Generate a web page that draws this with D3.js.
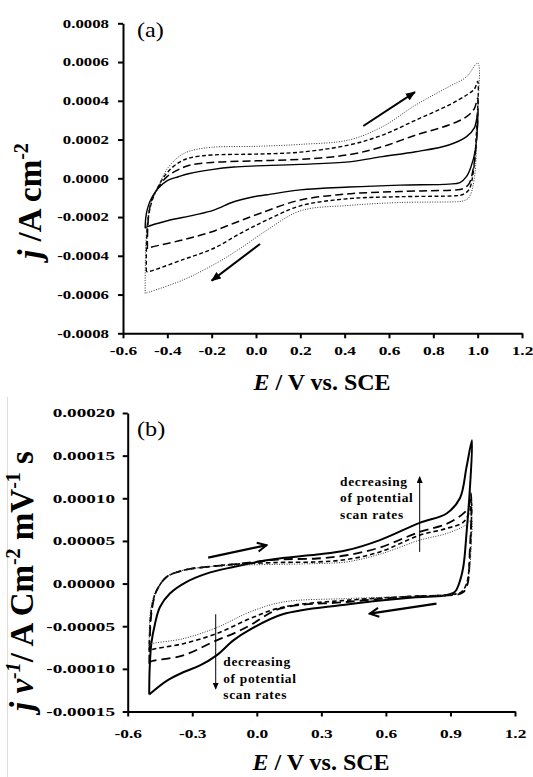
<!DOCTYPE html>
<html>
<head>
<meta charset="utf-8">
<script src="https://cdn.jsdelivr.net/npm/d3@7"></script>
<style>
body { margin: 0; background: #fff; }
svg { display: block; font-family: "Liberation Serif", "Times New Roman", serif; }
</style>
</head>
<body>
<div id="chart"></div>
<script>
// ---- panel (a): current density j (A cm-2) vs E (V), four scan rates ----
// each loop: anodic branch (upper, -0.5 -> 1.0 V) then cathodic branch (lower, back to -0.5 V)
var aSolidUp = [[-0.5,-0.000258],[-0.497,-0.0002],[-0.488,-0.00015],[-0.47,-0.0001],[-0.44,-0.00005],[-0.4,-0.000012],[-0.35,0.000008],[-0.3,0.000025],[-0.2,0.000045],[-0.1,0.000058],[0.0,0.000064],[0.2,0.000072],[0.42,0.000085],[0.57,0.000112],[0.72,0.000137],[0.87,0.000172],[0.95,0.000215],[0.985,0.00026],[1.0,0.000335]];
var aSolidDown = [[0.99,0.00015],[0.97,0.00006],[0.95,0.00001],[0.92,-0.000022],[0.87,-0.00003],[0.65,-0.000035],[0.42,-0.000045],[0.2,-0.00006],[0.05,-0.000085],[-0.01,-0.000095],[-0.1,-0.000121],[-0.19,-0.000164],[-0.28,-0.00019],[-0.4,-0.000219],[-0.49,-0.00025],[-0.5,-0.000258]];
var aLongUp = [[-0.49,-0.000365],[-0.489,-0.00027],[-0.483,-0.00018],[-0.47,-0.00011],[-0.44,-0.000045],[-0.4,0.00001],[-0.35,0.000045],[-0.3,0.000067],[-0.2,0.000082],[0.0,0.00009],[0.2,0.000098],[0.42,0.000122],[0.57,0.000163],[0.72,0.000223],[0.87,0.000275],[0.95,0.000318],[0.985,0.00036],[1.0,0.000415]];
var aLongDown = [[0.995,0.0002],[0.98,0.00005],[0.96,-0.00003],[0.93,-0.000055],[0.9,-0.00006],[0.65,-0.000068],[0.42,-0.00008],[0.2,-0.000112],[0.02,-0.00018],[-0.1,-0.000232],[-0.21,-0.00028],[-0.33,-0.000318],[-0.486,-0.000361],[-0.49,-0.000365]];
var aShortUp = [[-0.495,-0.00048],[-0.494,-0.00035],[-0.488,-0.00022],[-0.47,-0.00012],[-0.44,-0.00004],[-0.4,0.00003],[-0.35,0.00008],[-0.3,0.000105],[-0.2,0.00012],[0.0,0.000125],[0.2,0.000135],[0.42,0.000172],[0.57,0.000223],[0.72,0.0003],[0.87,0.000378],[0.95,0.00043],[0.985,0.00046],[1.0,0.0005]];
var aShortDown = [[0.995,0.00025],[0.98,0.00003],[0.96,-0.00006],[0.93,-0.000085],[0.9,-0.00009],[0.65,-0.000095],[0.42,-0.000105],[0.2,-0.000142],[0.05,-0.000215],[-0.07,-0.000284],[-0.19,-0.000361],[-0.33,-0.00042],[-0.49,-0.000482],[-0.495,-0.00048]];
var aDotUp = [[-0.5,-0.000594],[-0.499,-0.00042],[-0.492,-0.00025],[-0.475,-0.00013],[-0.44,-0.00004],[-0.4,0.00005],[-0.35,0.00011],[-0.3,0.00014],[-0.2,0.00016],[0.0,0.000165],[0.2,0.000175],[0.42,0.000198],[0.57,0.000266],[0.72,0.000378],[0.87,0.000473],[0.95,0.000524],[1.0,0.000595]];
var aDotDown = [[0.997,0.0003],[0.985,0.0],[0.96,-0.0001],[0.93,-0.000118],[0.9,-0.000121],[0.65,-0.000125],[0.42,-0.00014],[0.2,-0.000168],[0.05,-0.000267],[-0.07,-0.000361],[-0.18,-0.000439],[-0.33,-0.000525],[-0.5,-0.000594]];

// ---- panel (b): j/v vs E ----
var bSolidUp = [[-0.5,-0.00013],[-0.498,-0.0001],[-0.49,-0.00007],[-0.473,-0.000047],[-0.45,-0.0000275],[-0.404,-0.0000117],[-0.326,0.000002],[-0.234,0.0000117],[-0.109,0.0000195],[0.046,0.0000274],[0.12,0.00003],[0.28,0.000034],[0.417,0.000039],[0.572,0.000051],[0.757,0.0000712],[0.882,0.0000822],[0.944,0.0001],[0.975,0.000137],[1.0,0.000168]];
var bSolidDown = [[0.99,0.00011],[0.975,0.00006],[0.96,0.00002],[0.94,0.0],[0.92,-0.00001],[0.87,-0.000014],[0.726,-0.0000164],[0.4,-0.000025],[0.12,-0.000036],[-0.032,-0.000054],[-0.109,-0.0000666],[-0.187,-0.0000842],[-0.264,-0.000096],[-0.342,-0.000104],[-0.419,-0.000114],[-0.5,-0.00013]];
var bLongUp = [[-0.5,-0.000094],[-0.498,-0.00007],[-0.492,-0.00004],[-0.48,-0.00002],[-0.465,-0.0000079],[-0.419,0.0000078],[-0.342,0.0000156],[-0.234,0.0000195],[-0.1,0.0000227],[0.1,0.0000282],[0.28,0.0000294],[0.417,0.0000332],[0.572,0.0000423],[0.757,0.0000606],[0.882,0.00007],[0.959,0.000082],[0.985,0.00009],[0.995,0.000106]];
var bLongDown = [[0.997,0.00008],[0.99,0.00004],[0.98,0.0],[0.96,-0.00001],[0.93,-0.000013],[0.87,-0.000014],[0.726,-0.000015],[0.417,-0.0000216],[0.108,-0.0000294],[-0.032,-0.000049],[-0.109,-0.0000587],[-0.187,-0.0000666],[-0.342,-0.0000842],[-0.496,-0.000092],[-0.5,-0.000094]];
var bShortUp = [[-0.5,-0.00008],[-0.498,-0.00006],[-0.492,-0.000035],[-0.48,-0.000018],[-0.465,-0.0000079],[-0.419,0.0000078],[-0.342,0.0000156],[-0.234,0.0000195],[-0.1,0.0000227],[0.1,0.0000247],[0.28,0.0000254],[0.417,0.0000282],[0.572,0.0000371],[0.757,0.0000567],[0.882,0.0000646],[0.96,0.000072],[0.99,0.000085],[0.998,0.000095]];
var bShortDown = [[0.997,0.00007],[0.99,0.00003],[0.975,0.0],[0.95,-0.00001],[0.9,-0.000013],[0.726,-0.000015],[0.417,-0.0000196],[0.123,-0.0000275],[-0.032,-0.0000411],[-0.187,-0.0000587],[-0.342,-0.0000705],[-0.496,-0.0000783],[-0.5,-0.00008]];
var bDotUp = [[-0.5,-0.000073],[-0.499,-0.00005],[-0.493,-0.00003],[-0.48,-0.000016],[-0.465,-0.0000079],[-0.419,0.0000078],[-0.342,0.0000156],[-0.234,0.0000195],[-0.1,0.0000215],[0.1,0.0000225],[0.28,0.0000235],[0.417,0.0000254],[0.572,0.0000344],[0.757,0.0000509],[0.882,0.0000587],[0.97,0.0000685],[0.998,0.000075]];
var bDotDown = [[0.997,0.00005],[0.99,0.00002],[0.975,0.0],[0.95,-0.00001],[0.9,-0.000013],[0.726,-0.000015],[0.417,-0.0000176],[0.123,-0.0000216],[-0.032,-0.0000333],[-0.187,-0.0000517],[-0.342,-0.0000646],[-0.496,-0.0000713],[-0.5,-0.000073]];

// ticks
var aXTicks = [-0.6,-0.4,-0.2,0.0,0.2,0.4,0.6,0.8,1.0,1.2];
var aYTicks = [-0.0008,-0.0006,-0.0004,-0.0002,0,0.0002,0.0004,0.0006,0.0008];
var bXTicks = [-0.6,-0.3,0.0,0.3,0.6,0.9,1.2];
var bYTicks = [-0.00015,-0.0001,-0.00005,0,0.00005,0.0001,0.00015,0.0002];

// annotations (data coordinates)
var aArrows = [{from:[0.484,0.00027], to:[0.717,0.000445]}, {from:[0.018,-0.000339], to:[-0.2,-0.000528]}];
var bArrows = [{from:[-0.226,0.0000305], to:[0.045,0.000045]}, {from:[0.835,-0.0000235], to:[0.525,-0.0000352]}];
var bThinArrows = [{from:[0.757,0.0000371], to:[0.757,0.000125]}, {from:[-0.191,-0.000036], to:[-0.191,-0.0001233]}];
var bNotes = [{at:[0.387,0.0001143], lines:["decreasing","of potential","scan rates"]},
              {at:[-0.156,-0.0000971], lines:["decreasing","of potential","scan rates"]}];

var W = 533, H = 777;
var svg = d3.select("#chart").append("svg").attr("width", W).attr("height", H);

// arrow heads
var defs = svg.append("defs");
defs.append("marker").attr("id","head-fill")
    .attr("viewBox","0 -4 10 8").attr("refX",9).attr("refY",0)
    .attr("markerUnits","userSpaceOnUse").attr("markerWidth",10).attr("markerHeight",8)
    .attr("orient","auto")
    .append("path").attr("d","M0,-4L10,0L0,4Z").attr("fill","#000");
defs.append("marker").attr("id","head-open")
    .attr("viewBox","-1 -6 12 12").attr("refX",9).attr("refY",0)
    .attr("markerUnits","userSpaceOnUse").attr("markerWidth",12).attr("markerHeight",12)
    .attr("orient","auto")
    .append("path").attr("d","M0,-4.5L9,0L0,4.5").attr("fill","none").attr("stroke","#000").attr("stroke-width",2);
defs.append("marker").attr("id","head-small")
    .attr("viewBox","0 -3 7 6").attr("refX",6).attr("refY",0)
    .attr("markerUnits","userSpaceOnUse").attr("markerWidth",7).attr("markerHeight",6)
    .attr("orient","auto")
    .append("path").attr("d","M0,-3L7,0L0,3Z").attr("fill","#000");

// faint border of the pasted lower image
svg.append("line").attr("x1",7.5).attr("x2",7.5).attr("y1",397).attr("y2",H)
    .attr("stroke","#dcdcdc").attr("stroke-width",1);

var drawPanel = function (cfg) {
    var x = d3.scaleLinear().domain([-0.6, 1.2]).range(cfg.xRange);
    var y = d3.scaleLinear().domain(cfg.yDomain).range(cfg.yRange);
    var g = svg.append("g");

    var line = d3.line()
        .x(function (d) { return x(d[0]); })
        .y(function (d) { return y(d[1]); })
        .curve(d3.curveCatmullRom.alpha(0.5));

    cfg.series.forEach(function (s) {
        g.append("path")
            .attr("d", line(s.up.concat(s.down)))
            .attr("fill", "none")
            .attr("stroke", s.color || "#000")
            .attr("stroke-width", s.w)
            .attr("stroke-dasharray", s.dash);
    });

    // axes
    var gx = g.append("g")
        .attr("transform", "translate(0," + cfg.yRange[0] + ")")
        .call(d3.axisBottom(x).tickValues(cfg.xTicks).tickSize(5).tickSizeOuter(0)
            .tickFormat(function (d) { return d.toFixed(1); }));
    var gy = g.append("g")
        .attr("transform", "translate(" + cfg.xRange[0] + ",0)")
        .call(d3.axisLeft(y).tickValues(cfg.yTicks).tickSize(5).tickSizeOuter(0)
            .tickFormat(function (d) { return d.toFixed(cfg.yDigits); }));

    [gx, gy].forEach(function (a) {
        a.attr("font-family", "'Liberation Serif', serif").attr("font-size", 12).attr("font-weight", "bold");
        a.select(".domain").attr("stroke", "#000").attr("stroke-width", 2);
        a.selectAll(".tick line").attr("stroke", "#000").attr("stroke-width", 2);
        a.selectAll(".tick text").attr("fill", "#000");
    });
    gx.selectAll(".tick text")
        .attr("dy", 0).attr("y", cfg.xLabelDy)
        .attr("transform", "scale(" + cfg.xLabelSx + ",1)");
    gy.selectAll(".tick text")
        .attr("x", -cfg.yLabelGap / cfg.yLabelSx)
        .attr("transform", "scale(" + cfg.yLabelSx + ",1)");

    // panel letter
    g.append("text")
        .attr("transform", "translate(" + cfg.letterPos[0] + "," + cfg.letterPos[1] + ") scale(1.1,1)")
        .attr("font-size", 22)
        .text(cfg.letter);

    // x title
    var xt = g.append("text")
        .attr("x", cfg.xTitlePos[0]).attr("y", cfg.xTitlePos[1])
        .attr("text-anchor", "middle").attr("font-size", 24).attr("font-weight", "bold");
    xt.append("tspan").attr("font-style", "italic").text("E");
    xt.append("tspan").text(" / V vs. SCE");

    // y title
    var yt = g.append("text")
        .attr("transform", "translate(" + cfg.yTitlePos[0] + "," + cfg.yTitlePos[1] + ") rotate(-90)")
        .attr("text-anchor", "middle").attr("font-size", 33).attr("font-weight", "bold");
    cfg.yTitle.forEach(function (p) {
        var t = yt.append("tspan").text(p.t);
        if (p.it) t.attr("font-style", "italic");
        if (p.sup) t.attr("font-size", 20).attr("dy", -13);
        if (p.back) t.attr("dy", 13);
    });

    // arrows
    cfg.arrows.forEach(function (a) {
        g.append("line")
            .attr("x1", x(a.from[0])).attr("y1", y(a.from[1]))
            .attr("x2", x(a.to[0])).attr("y2", y(a.to[1]))
            .attr("stroke", "#000").attr("stroke-width", a.w)
            .attr("marker-end", "url(#" + a.head + ")");
    });

    // notes
    cfg.notes.forEach(function (n) {
        var t = g.append("text")
            .attr("transform", "translate(" + x(n.at[0]) + "," + y(n.at[1]) + ") scale(1.12,1)")
            .attr("font-size", 12).attr("font-weight", "bold").attr("letter-spacing", 0.6);
        n.lines.forEach(function (l, i) {
            t.append("tspan").attr("x", 0).attr("dy", i === 0 ? 0 : 16.3).text(l);
        });
    });
};

var thick = function (list, head, w) {
    return list.map(function (a) { return {from: a.from, to: a.to, head: head, w: w}; });
};

drawPanel({
    xRange: [123, 522], yRange: [333.3, 23.3], yDomain: [-0.0008, 0.0008],
    xTicks: aXTicks, yTicks: aYTicks, yDigits: 4,
    xLabelDy: 22, xLabelSx: 1.45, yLabelGap: 14, yLabelSx: 1.4,
    series: [
        {up: aSolidUp, down: aSolidDown, w: 1.4},
        {up: aLongUp, down: aLongDown, w: 1.5, dash: "8,4"},
        {up: aShortUp, down: aShortDown, w: 1.4, dash: "4,2.5"},
        {up: aDotUp, down: aDotDown, w: 1, dash: "1,1.5", color: "#333"}
    ],
    letter: "(a)", letterPos: [137, 37],
    xTitlePos: [322, 390], yTitlePos: [41, 201],
    yTitle: [{t: "j", it: true}, {t: " /A cm"}, {t: "-2", sup: true}],
    arrows: thick(aArrows, "head-fill", 2),
    notes: []
});

drawPanel({
    xRange: [127.7, 515], yRange: [711.5, 413], yDomain: [-0.00015, 0.0002],
    xTicks: bXTicks, yTicks: bYTicks, yDigits: 5,
    xLabelDy: 27, xLabelSx: 1.45, yLabelGap: 12.7, yLabelSx: 1.6,
    series: [
        {up: bSolidUp, down: bSolidDown, w: 2},
        {up: bLongUp, down: bLongDown, w: 1.8, dash: "9,5"},
        {up: bShortUp, down: bShortDown, w: 1.6, dash: "4.5,3"},
        {up: bDotUp, down: bDotDown, w: 1, dash: "1,1.5", color: "#333"}
    ],
    letter: "(b)", letterPos: [137, 436],
    xTitlePos: [321, 770], yTitlePos: [33, 581],
    yTitle: [{t: "j", it: true}, {t: " v", it: true}, {t: "-1", it: true, sup: true}, {t: "/ A Cm", back: true},
             {t: "-2", sup: true}, {t: " mV", back: true}, {t: "-1", sup: true}, {t: " s", back: true}],
    arrows: thick(bArrows, "head-open", 2.2).concat(thick(bThinArrows, "head-small", 1)),
    notes: bNotes
});
</script>
</body>
</html>
